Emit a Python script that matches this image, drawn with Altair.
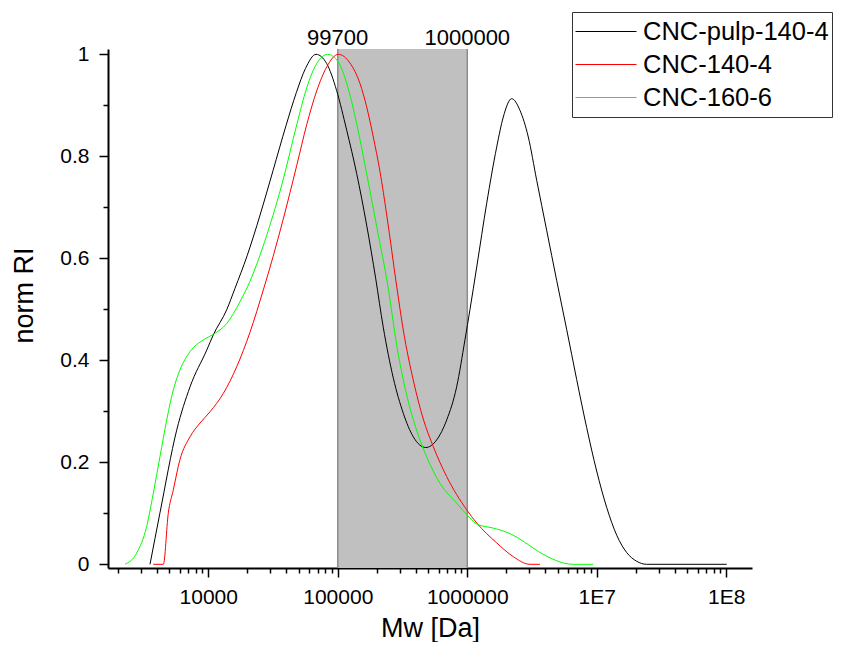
import altair as alt
import pandas as pd

# ---------------- data ----------------
SERIES = ["CNC-pulp-140-4", "CNC-140-4", "CNC-160-6"]
COLORS = ["#000000", "#ff0000", "#00ff00"]

# log10(Mw) and normalised RI for each series
pulp_logmw = [3.550, 3.627, 3.756, 3.859, 3.988, 4.039, 4.142, 4.206, 4.300, 4.400,
              4.500, 4.600, 4.680, 4.750, 4.832, 4.914, 4.991, 5.069, 5.146, 5.223,
              5.293, 5.351, 5.429, 5.506, 5.583, 5.679, 5.764, 5.841, 5.918, 5.982,
              6.021, 6.073, 6.150, 6.227, 6.278, 6.343, 6.407, 6.471, 6.536, 6.613,
              6.690, 6.768, 6.845, 6.922, 6.999, 7.076, 7.154, 7.231, 7.308, 7.385,
              8.003]
pulp_ri = [0.000, 0.101, 0.263, 0.348, 0.420, 0.450, 0.499, 0.541, 0.605, 0.685,
           0.772, 0.860, 0.925, 0.972, 1.000, 0.982, 0.929, 0.851, 0.766, 0.665,
           0.560, 0.465, 0.365, 0.296, 0.250, 0.229, 0.244, 0.283, 0.348, 0.440,
           0.500, 0.583, 0.708, 0.818, 0.877, 0.913, 0.890, 0.838, 0.753, 0.655,
           0.557, 0.460, 0.362, 0.268, 0.183, 0.112, 0.057, 0.023, 0.006, 0.000,
           0.000]

c140_logmw = [3.575, 3.653, 3.691, 3.730, 3.781, 3.859, 3.936, 4.013, 4.116, 4.219,
              4.322, 4.425, 4.500, 4.579, 4.683, 4.760, 4.837, 4.914, 5.004, 5.094,
              5.171, 5.223, 5.274, 5.326, 5.378, 5.455, 5.506, 5.583, 5.660, 5.737,
              5.841, 5.995, 6.073, 6.227, 6.355, 6.484, 6.561]
c140_ri = [0.000, 0.000, 0.100, 0.146, 0.205, 0.250, 0.277, 0.299, 0.335, 0.387,
           0.455, 0.538, 0.603, 0.677, 0.782, 0.862, 0.928, 0.975, 1.000, 0.983,
           0.943, 0.897, 0.838, 0.770, 0.685, 0.545, 0.459, 0.361, 0.285, 0.231,
           0.172, 0.107, 0.081, 0.042, 0.015, 0.000, 0.000]

c160_logmw = [3.357, 3.447, 3.524, 3.575, 3.627, 3.679, 3.730, 3.781, 3.859, 3.961,
              4.039, 4.142, 4.245, 4.322, 4.451, 4.579, 4.683, 4.760, 4.837, 4.922,
              5.004, 5.069, 5.146, 5.223, 5.301, 5.390, 5.455, 5.532, 5.609, 5.686,
              5.789, 5.918, 6.021, 6.073, 6.200, 6.270, 6.330, 6.390, 6.440, 6.490,
              6.550, 6.613, 6.680, 6.750, 6.819, 6.973]
c160_ri = [0.000, 0.022, 0.074, 0.139, 0.211, 0.283, 0.342, 0.381, 0.417, 0.440,
           0.451, 0.472, 0.515, 0.555, 0.645, 0.755, 0.862, 0.934, 0.982, 1.000,
           0.985, 0.943, 0.864, 0.766, 0.662, 0.541, 0.430, 0.332, 0.263, 0.211,
           0.159, 0.120, 0.091, 0.079, 0.071, 0.066, 0.060, 0.052, 0.044, 0.035,
           0.025, 0.016, 0.008, 0.002, 0.000, 0.000]

# shaded band and its labels
BAND_START = 100000
BAND_END = 1000000
BAND_LABEL_X = [99700, 1000000]
BAND_LABELS = ["99700", "1000000"]
BAND_LABEL_Y = [1.018, 1.018]

# axis ticks
X_TICKS = [2000, 3000, 4000, 5000, 6000, 7000, 8000, 9000,
           10000, 20000, 30000, 40000, 50000, 60000, 70000, 80000, 90000,
           100000, 200000, 300000, 400000, 500000, 600000, 700000, 800000, 900000,
           1000000, 2000000, 3000000, 4000000, 5000000, 6000000, 7000000, 8000000, 9000000,
           10000000, 20000000, 30000000, 40000000, 50000000, 60000000, 70000000, 80000000, 90000000,
           100000000]
X_MAJOR = [10000, 100000, 1000000, 10000000, 100000000]
X_MAJOR_LABELS = ["10000", "100000", "1000000", "1E7", "1E8"]
Y_TICKS = [0, 0.1, 0.2, 0.3, 0.4, 0.5, 0.6, 0.7, 0.8, 0.9, 1]
Y_MAJOR = [0, 0.2, 0.4, 0.6, 0.8, 1]

# ---------------- layout ----------------
PLOT_W = 644
PLOT_H = 519
X_DOMAIN = [1681, 158000000]
Y_DOMAIN = [-0.00725, 1.0104]
FONT = "Liberation Sans"

rows = []
for name, xs, ys in [(SERIES[0], pulp_logmw, pulp_ri),
                     (SERIES[1], c140_logmw, c140_ri),
                     (SERIES[2], c160_logmw, c160_ri)]:
    for i, (lx, y) in enumerate(zip(xs, ys)):
        rows.append({"series": name, "order": i, "Mw": 10 ** lx, "RI": y})
df = pd.DataFrame(rows)

band_df = pd.DataFrame({"x0": [BAND_START], "x1": [BAND_END]})
edge_df = pd.DataFrame({"x": [BAND_START, BAND_END]})
label_df = pd.DataFrame({"x": BAND_LABEL_X, "y": BAND_LABEL_Y, "t": BAND_LABELS})

xscale = alt.Scale(type="log", domain=X_DOMAIN, nice=False)
yscale = alt.Scale(domain=Y_DOMAIN, nice=False, zero=False)

major_x_test = "indexof(" + str(X_MAJOR) + ", datum.value) >= 0"
label_expr_x = "''"
for v, t in reversed(list(zip(X_MAJOR, X_MAJOR_LABELS))):
    label_expr_x = f"datum.value == {v} ? '{t}' : ({label_expr_x})"
major_y_test = "indexof(" + str(Y_MAJOR) + ", datum.value) >= 0"

x_axis = alt.Axis(
    values=X_TICKS, labelExpr=label_expr_x, labelOverlap=False, labelFlush=False,
    tickSize={"condition": {"test": major_x_test, "value": 9}, "value": 5},
    tickWidth=1.5, tickColor="black", domainColor="black", domainWidth=2,
    labelFont=FONT, labelFontSize=21, labelColor="black", labelPadding=9,
    labelBaseline="top",
    title="Mw [Da]", titleFont=FONT, titleFontSize=27, titleFontWeight="normal",
    titleColor="black", titleY=68, titleBaseline="alphabetic", grid=False,
)
y_axis = alt.Axis(
    values=Y_TICKS,
    labelExpr=f"{major_y_test} ? format(datum.value, '~g') : ''",
    labelOverlap=False, labelFlush=False,
    tickSize={"condition": {"test": major_y_test, "value": 9}, "value": 5},
    tickWidth=1.5, tickColor="black", domainColor="black", domainWidth=2,
    labelFont=FONT, labelFontSize=21, labelColor="black", labelPadding=10,
    title="norm RI", titleFont=FONT, titleFontSize=27, titleFontWeight="normal",
    titleColor="black", titleAngle=-90, titleX=-76, titleY=246,
    titleAlign="center", titleBaseline="alphabetic", grid=False,
)

band = alt.Chart(band_df).mark_rect(color="#c0c0c0").encode(
    x=alt.X("x0:Q", scale=xscale, axis=x_axis),
    x2="x1:Q",
    y=alt.value(0),
    y2=alt.value(PLOT_H),
)
edges = alt.Chart(edge_df).mark_rule(color="#8c8c8c", strokeWidth=1.5).encode(
    x=alt.X("x:Q", scale=xscale),
    y=alt.value(0),
    y2=alt.value(PLOT_H),
)
labels = alt.Chart(label_df).mark_text(
    font=FONT, fontSize=22, color="black", align="center", baseline="alphabetic"
).encode(
    x=alt.X("x:Q", scale=xscale),
    y=alt.Y("y:Q", scale=yscale),
    text="t:N",
)
lines = alt.Chart(df).mark_line(strokeWidth=1, interpolate="monotone").encode(
    x=alt.X("Mw:Q", scale=xscale),
    y=alt.Y("RI:Q", scale=yscale, axis=y_axis),
    color=alt.Color(
        "series:N",
        scale=alt.Scale(domain=SERIES, range=COLORS),
        sort=SERIES,
        legend=alt.Legend(
            title=None, orient="none", legendX=464, legendY=-37,
            symbolType="stroke", symbolSize=3721, symbolStrokeWidth=1,
            labelFont=FONT, labelFontSize=25.5, labelColor="black", labelOffset=6,
            labelLimit=0, padding=3, strokeColor="#333333", fillColor="white",
            clipHeight=33, rowPadding=0,
        ),
    ),
    order="order:Q",
)

chart = alt.layer(band, edges, lines, labels).properties(
    width=PLOT_W,
    height=PLOT_H,
    autosize=alt.AutoSizeParams(type="none"),
    padding={"left": 100, "top": 41, "right": 81, "bottom": 74},
    background="white",
).configure_view(stroke=None)

chart.save("out.html", embed_options={"renderer": "svg", "actions": False})
